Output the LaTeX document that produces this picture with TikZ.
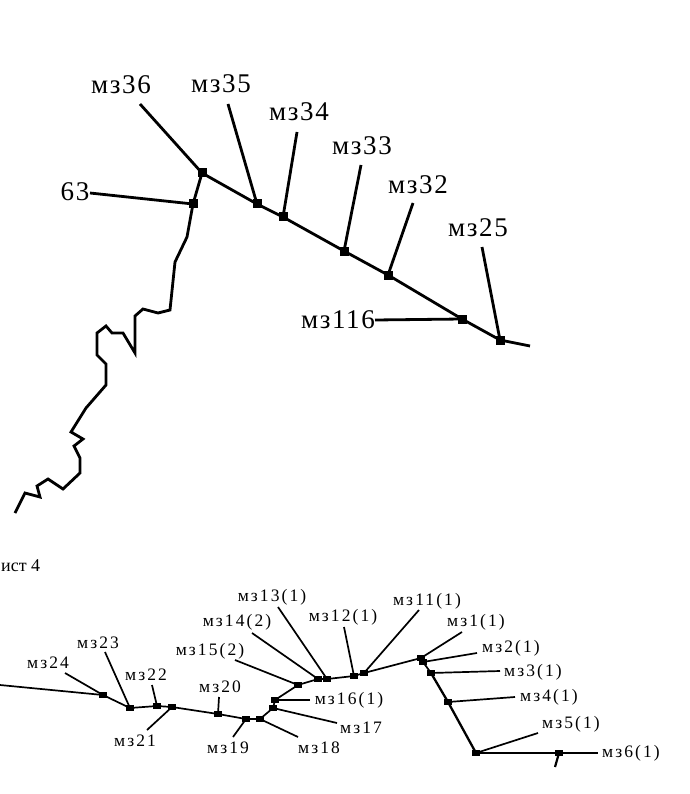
\documentclass[tikz,border=0pt]{standalone}
\usepackage{fontspec}
\setmainfont{Liberation Serif}
\begin{document}
\begin{tikzpicture}[x=1pt,y=-1pt,
  tsq/.style={fill,minimum width=9pt,minimum height=9pt,inner sep=0pt},
  bsq/.style={fill,minimum width=8pt,minimum height=5.5pt,inner sep=0pt},
  tlab/.style={inner sep=0pt,font=\fontsize{27}{30}\selectfont\addfontfeature{LetterSpace=6}},
  blab/.style={inner sep=0pt,font=\fontsize{17.5}{19}\selectfont\addfontfeature{LetterSpace=12}},
  tl/.style={line width=2.8pt},
  bl/.style={line width=1.7pt}]
\useasboundingbox (0,0) rectangle (689,794);
% ---------- upper scheme ----------
\node[tsq] (A) at (202,173) {};
\node[tsq] (B) at (193,204) {};
\node[tsq] (C) at (257,204) {};
\node[tsq] (D) at (283,217) {};
\node[tsq] (E) at (344,251) {};
\node[tsq] (F) at (388,275) {};
\node[tsq] (G) at (462,319) {};
\node[tsq] (H) at (500,340) {};
\coordinate (Hend) at (530,346);

\node[tlab] (l36) at (121,85) {мз36};
\node[tlab] (l35) at (221,84) {мз35};
\node[tlab] (l34) at (299,112) {мз34};
\node[tlab] (l33) at (362,146) {мз33};
\node[tlab] (l32) at (418,185) {мз32};
\node[tlab] (l25) at (478,228) {мз25};
\node[tlab] (l116) at (338,320) {мз116};
\node[tlab] (l63) at (75,192) {63};

\coordinate (e36) at (140,104);
\coordinate (e35) at (228,104);
\coordinate (e34) at (297,132);
\coordinate (e33) at (361,165);
\coordinate (e32) at (413,203);
\coordinate (e25) at (482,247);
\coordinate (e116) at (375,320);
\coordinate (e63) at (90,193);
\coordinate (mend) at (15,513);

\draw[tl] (A.center) -- (C.center) -- (D.center) -- (E.center) -- (F.center) -- (G.center) -- (H.center) -- (Hend);
\draw[tl] (e36) -- (A.center);
\draw[tl] (e35) -- (C.center);
\draw[tl] (e34) -- (D.center);
\draw[tl] (e33) -- (E.center);
\draw[tl] (e32) -- (F.center);
\draw[tl] (e25) -- (H.center);
\draw[tl] (e116) -- (G.center);
\draw[tl] (e63) -- (B.center);
\draw[tl] (A.center) -- (B.center) -- (187,237) -- (175,262) -- (170,310) -- (158,313) -- (143,309) -- (135,316) -- (135,353) -- (123,333) -- (112,333) -- (106,326) -- (97,333) -- (97,355) -- (106,364) -- (106,385) -- (86,408) -- (71,432) -- (83,439) -- (74,446) -- (80,458) -- (80,473) -- (63,489) -- (48,479) -- (37,486) -- (40,497) -- (25,493) -- (mend);

% ---------- sheet note ----------
\node[anchor=base west,inner sep=0pt,font=\fontsize{18}{20}\selectfont] (sheet) at (1,571) {ист 4};

% ---------- lower scheme ----------
\node[bsq] (n24) at (103,695) {};
\node[bsq] (n23) at (130,708) {};
\node[bsq] (n22) at (157,706) {};
\node[bsq] (n21) at (172,707) {};
\node[bsq] (n20) at (218,714) {};
\node[bsq] (n19) at (246,719) {};
\node[bsq] (n18) at (260,719) {};
\node[bsq] (n17) at (273,708) {};
\node[bsq] (n16) at (275,700) {};
\node[bsq] (n15) at (298,685) {};
\node[bsq] (n14) at (318,679) {};
\node[bsq] (n13) at (327,679) {};
\node[bsq] (n12) at (354,676) {};
\node[bsq] (n11) at (364,673) {};
\node[bsq] (n1) at (421,658) {};
\node[bsq] (n2) at (423,662) {};
\node[bsq] (n3) at (431,673) {};
\node[bsq] (n4) at (448,702) {};
\node[bsq] (n5) at (476,753) {};
\node[bsq] (n6) at (559,753) {};

\node[blab] (m24) at (48,663) {мз24};
\node[blab] (m23) at (98,643) {мз23};
\node[blab] (m22) at (146,675) {мз22};
\node[blab] (m21) at (135,741) {мз21};
\node[blab] (m20) at (220,687) {мз20};
\node[blab] (m19) at (228,748) {мз19};
\node[blab] (m18) at (319,748) {мз18};
\node[blab] (m17) at (361,728) {мз17};
\node[blab] (m16) at (349,700) {мз16(1)};
\node[blab] (m15) at (210,651) {мз15(2)};
\node[blab] (m14) at (237,622) {мз14(2)};
\node[blab] (m13) at (272,597) {мз13(1)};
\node[blab] (m12) at (343,617) {мз12(1)};
\node[blab] (m11) at (427,601) {мз11(1)};
\node[blab] (m1) at (476,622) {мз1(1)};
\node[blab] (m2) at (511,648) {мз2(1)};
\node[blab] (m3) at (533,672) {мз3(1)};
\node[blab] (m4) at (549,697) {мз4(1)};
\node[blab] (m5) at (571,724) {мз5(1)};
\node[blab] (m6) at (631,753) {мз6(1)};

\coordinate (eleft) at (0,685);
\coordinate (f24) at (65,673);
\coordinate (f23) at (105,652);
\coordinate (f22) at (152,685);
\coordinate (f21) at (147,730);
\coordinate (f20) at (219,697);
\coordinate (f19) at (233,737);
\coordinate (f18) at (298,737);
\coordinate (f17) at (337,723);
\coordinate (f16) at (310,700);
\coordinate (f15) at (235,660);
\coordinate (f14) at (252,633);
\coordinate (f13) at (278,607);
\coordinate (f12) at (344,627);
\coordinate (f11) at (419,610);
\coordinate (f1) at (462,632);
\coordinate (f2) at (477,653);
\coordinate (f3) at (500,671);
\coordinate (f4) at (515,697);
\coordinate (f5) at (538,733);
\coordinate (f6) at (598,753);
\coordinate (tick) at (555,767);

\draw[bl] (eleft) -- (n24.center) -- (n23.center) -- (n22.center) -- (n21.center) -- (n20.center) -- (n19.center) -- (n18.center) -- (n17.center) -- (n16.center) -- (n15.center) -- (n14.center) -- (n13.center) -- (n12.center) -- (n11.center) -- (n1.center) -- (n2.center) -- (n3.center);
\draw[line width=2.3pt] (n3.center) -- (n4.center) -- (n5.center);
\draw[bl] (n5.center) -- (n6.center) -- (f6);
\draw[line width=2.2pt] (n6.center) -- (tick);
\draw[bl] (f24) -- (n24.center);
\draw[bl] (f23) -- (n23.center);
\draw[bl] (f22) -- (n22.center);
\draw[bl] (f21) -- (n21.center);
\draw[bl] (f20) -- (n20.center);
\draw[bl] (f19) -- (n19.center);
\draw[bl] (f18) -- (n18.center);
\draw[bl] (f17) -- (n17.center);
\draw[bl] (f16) -- (n16.center);
\draw[bl] (f15) -- (n15.center);
\draw[bl] (f14) -- (n14.center);
\draw[bl] (f13) -- (n13.center);
\draw[bl] (f12) -- (n12.center);
\draw[bl] (f11) -- (n11.center);
\draw[bl] (f1) -- (n1.center);
\draw[bl] (f2) -- (n2.center);
\draw[bl] (f3) -- (n3.center);
\draw[bl] (f4) -- (n4.center);
\draw[bl] (f5) -- (n5.center);
\end{tikzpicture}
\end{document}
